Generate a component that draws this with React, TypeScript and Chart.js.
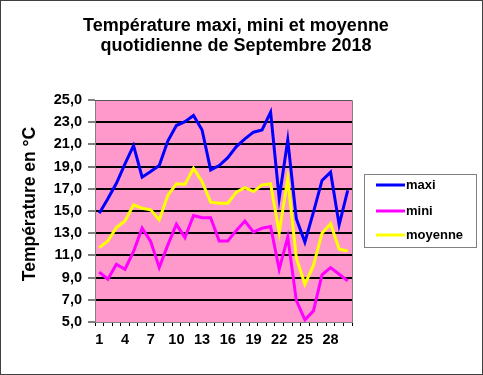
import React, { useEffect, useRef } from 'react';
import { Chart, registerables } from 'chart.js';

Chart.register(...registerables);

const days = ['1','2','3','4','5','6','7','8','9','10','11','12','13','14','15','16','17','18','19','20','21','22','23','24','25','26','27','28','29','30'];
const maxi = [14.8,16.1,17.5,19.25,20.9,18.05,18.55,19.1,21.3,22.7,23.05,23.6,22.3,18.7,19.1,19.8,20.8,21.5,22.1,22.3,23.9,16.15,21.4,14.3,12.2,14.9,17.75,18.5,13.75,16.85];
const mini = [9.5,8.85,10.2,9.75,11.35,13.45,12.25,9.9,11.95,13.8,12.6,14.6,14.4,14.4,12.3,12.3,13.25,14.1,13.1,13.45,13.6,9.75,12.65,6.95,5.2,6.0,9.25,9.9,9.3,8.7];
const moyenne = [11.7,12.3,13.5,14.1,15.55,15.25,15.1,14.2,16.4,17.45,17.4,18.85,17.65,15.8,15.7,15.7,16.7,17.1,16.75,17.35,17.45,13.05,17.9,10.8,8.4,10.1,13.0,13.85,11.55,11.4];
const seriesNames = ['maxi', 'mini', 'moyenne'];
const seriesColors = ['#0000FF', '#FF00FF', '#FFFF00'];
const titleLines = ['Température maxi, mini et moyenne', 'quotidienne de Septembre 2018'];
const yTitle = 'Température en °C';

const FONT = "'Liberation Sans', Arial, sans-serif";

const decorPlugin = {
  id: 'decor',
  beforeDraw(chart: any) {
    const { ctx, chartArea: a, width, height } = chart;
    ctx.save();
    ctx.fillStyle = '#FFFFFF';
    ctx.fillRect(0, 0, width, height);
    ctx.fillStyle = '#FF99CC';
    ctx.fillRect(a.left, a.top, a.right - a.left, a.bottom - a.top);
    ctx.restore();
  },
  afterDraw(chart: any) {
    const { ctx, chartArea: a, width, height } = chart;
    ctx.save();
    ctx.strokeStyle = '#808080';
    ctx.lineWidth = 1;
    ctx.beginPath();
    ctx.moveTo(a.left, a.top + 0.5);
    ctx.lineTo(a.right + 0.5, a.top + 0.5);
    ctx.lineTo(a.right + 0.5, a.bottom);
    ctx.stroke();
    ctx.strokeStyle = '#555555';
    ctx.beginPath();
    ctx.moveTo(a.left, a.top + 0.5);
    ctx.lineTo(a.right, a.top + 0.5);
    ctx.stroke();
    ctx.strokeStyle = '#404040';
    ctx.lineWidth = 1;
    ctx.strokeRect(0.5, 0.5, width - 1, height - 1);
    ctx.fillStyle = '#000000';
    ctx.font = `bold 18px ${FONT}`;
    ctx.textAlign = 'center';
    ctx.textBaseline = 'middle';
    ctx.fillText(titleLines[0], 236, 26);
    ctx.fillText(titleLines[1], 236, 46);
    ctx.save();
    ctx.translate(30, 204);
    ctx.rotate(-Math.PI / 2);
    ctx.font = `bold 17.5px ${FONT}`;
    ctx.fillText(yTitle, 0, 0);
    ctx.restore();
    const lx = 364, ly = 174, lw = 112, lh = 73;
    ctx.fillStyle = '#FFFFFF';
    ctx.fillRect(lx, ly, lw, lh);
    ctx.strokeStyle = '#808080';
    ctx.strokeRect(lx + 0.5, ly + 0.5, lw, lh);
    const rows = [185, 211, 235];
    ctx.font = `bold 13px ${FONT}`;
    ctx.textAlign = 'left';
    for (let i = 0; i < seriesNames.length; i++) {
      ctx.strokeStyle = seriesColors[i];
      ctx.lineWidth = 3;
      ctx.beginPath();
      ctx.moveTo(376, rows[i]);
      ctx.lineTo(405, rows[i]);
      ctx.stroke();
      ctx.fillStyle = '#000000';
      ctx.fillText(seriesNames[i], 406, rows[i]);
    }
    ctx.restore();
  },
};

export default function App() {
  const ref = useRef<HTMLCanvasElement | null>(null);
  useEffect(() => {
    if (!ref.current) return;
    const datasets = [maxi, mini, moyenne].map((d, i) => ({
      label: seriesNames[i],
      data: d,
      borderColor: seriesColors[i],
      backgroundColor: seriesColors[i],
      borderWidth: 3,
      pointRadius: 0,
      tension: 0,
      fill: false,
    }));
    const chart = new Chart(ref.current, {
      type: 'line',
      data: { labels: days, datasets },
      options: {
        responsive: false,
        animation: false,
        devicePixelRatio: 1,
        layout: { padding: { left: 0, right: 131, top: 100, bottom: 0 } },
        plugins: { legend: { display: false }, title: { display: false }, tooltip: { enabled: false } },
        scales: {
          x: {
            type: 'category',
            offset: true,
            grid: { offset: true, drawOnChartArea: false, tickLength: 4, color: '#000000', lineWidth: 1 },
            border: { color: '#808080', width: 1 },
            ticks: {
              autoSkip: false,
              maxRotation: 0,
              padding: 5,
              color: '#000000',
              font: { family: FONT, size: 14.5, weight: 'bold' },
              callback: (v: any, i: number) => (i % 3 === 0 ? days[i] : ''),
            },
            afterFit: (s: any) => { s.height = 53; },
          },
          y: {
            min: 5,
            max: 25,
            ticks: {
              stepSize: 2,
              padding: 6,
              color: '#000000',
              font: { family: FONT, size: 14.5, weight: 'bold' },
              callback: (v: any) => Number(v).toFixed(1).replace('.', ','),
            },
            grid: {
              color: (c: any) => (c.tick && (c.tick.value === 5 || c.tick.value === 25) ? 'rgba(0,0,0,0)' : '#000000'),
              lineWidth: 2,
              tickLength: 7,
              tickColor: '#000000',
              tickWidth: 1,
            },
            border: { color: '#808080', width: 1 },
            afterFit: (s: any) => { s.width = 95; },
          },
        },
      },
      plugins: [decorPlugin],
    });
    return () => chart.destroy();
  }, []);
  return (
    <div style={{ position: 'absolute', left: 0, top: 0, width: 483, height: 375 }}>
      <canvas ref={ref} width={483} height={375} style={{ display: 'block' }} />
    </div>
  );
}
